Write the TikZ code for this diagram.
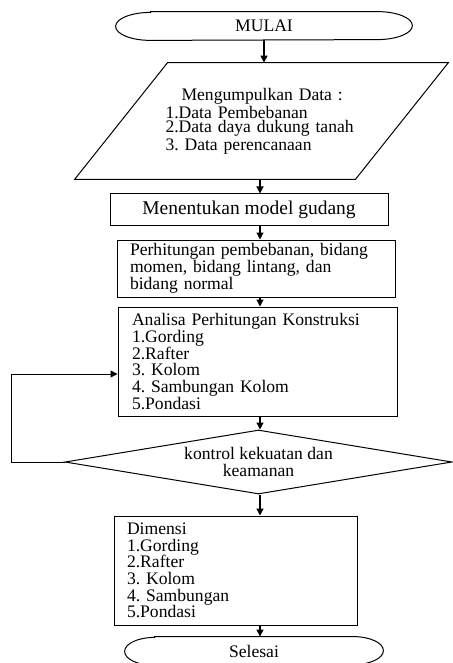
\documentclass[tikz,border=0pt]{standalone}
\usepackage{fontspec}
\setmainfont{Liberation Serif}
\usepackage{tikz}
\usetikzlibrary{arrows.meta,shapes.geometric,calc}
\frenchspacing
\newcommand*{\xAxis}{260}
\newcommand*{\xLoop}{11}
\newcommand*{\yLoop}{374}

\begin{document}
\begin{tikzpicture}[x=0.5pt,y=-0.5pt,
	box/.style={rectangle,draw=black,line width=0.5pt,align=left,inner ysep=0pt,font=\fontsize{8.8}{8.4}\selectfont},
	term/.style={rectangle,inner sep=0pt,minimum height=14pt,font=\fontsize{8.8}{8.4}\selectfont},
	arr/.style={-{Triangle[length=3.5pt,width=3.5pt]},line width=0.6pt}]
	\useasboundingbox (0,0) rectangle (452,663);
	\coordinate (ax) at (\xAxis,0);
	% mulai
	\node[term,minimum width=148pt] (mulai) at (264,26) {MULAI};
	\draw[line width=0.5pt] ([xshift=17.5pt]mulai.north west) -- ([xshift=-17.5pt]mulai.north east) arc[start angle=90,end angle=-90,x radius=17.5pt,y radius=7pt] -- ([xshift=17.5pt]mulai.south west) arc[start angle=270,end angle=90,x radius=17.5pt,y radius=7pt] -- cycle;
	% input data
	\node[rectangle,inner sep=0pt,minimum width=186.5pt,minimum height=58pt,text width=100pt,align=left,font=\fontsize{8.8}{7.3}\selectfont] (data) at (261.5,121) {\hspace*{10pt}Mengumpulkan Data :\\\hspace*{2pt}1.Data Pembebanan\\\hspace*{2pt}2.Data daya dukung tanah\\\hspace*{2pt}3. Data perencanaan};
	\draw[line width=0.5pt] ([xshift=46.5pt]data.north west) -- (data.north east) -- ([xshift=-46.5pt]data.south east) -- (data.south west) -- cycle;
	\node[box,align=center,minimum width=139pt,minimum height=16pt,font=\fontsize{9.75}{9}\selectfont] (model) at (249,210) {Menentukan model gudang};
	\node[box,inner xsep=6.5pt,text width=126pt,minimum height=28.5pt] (hitung) at (256,268.5) {Perhitungan pembebanan, bidang\\momen, bidang lintang, dan\\bidang normal};
	\node[box,inner xsep=7pt,text width=125.5pt,minimum height=54.5pt] (analisa) at (257.5,361.5) {Analisa Perhitungan Konstruksi\\1.Gording\\2.Rafter\\3. Kolom\\4. Sambungan Kolom\\5.Pondasi};
	\node[diamond,draw=black,line width=0.5pt,shape aspect=6,inner sep=0pt,minimum width=193.5pt,minimum height=32pt,align=center,font=\fontsize{8.8}{8.5}\selectfont] (kontrol) at (258.5,462) {kontrol kekuatan dan\\keamanan};
	\node[box,inner xsep=6.5pt,text width=108.5pt,minimum height=54.5pt,font=\fontsize{8.8}{8.3}\selectfont] (dimensi) at (235.5,570.5) {Dimensi\\1.Gording\\2.Rafter\\3. Kolom\\4. Sambungan\\5.Pondasi};
	% selesai
	\node[term,minimum width=129pt] (selesai) at (254,651) {Selesai};
	\draw[line width=0.5pt] ([xshift=15pt]selesai.north west) -- ([xshift=-15pt]selesai.north east) arc[start angle=90,end angle=-90,x radius=15pt,y radius=7pt] -- ([xshift=15pt]selesai.south west) arc[start angle=270,end angle=90,x radius=15pt,y radius=7pt] -- cycle;
	% arrows
	\draw[arr] (mulai.south) -- (mulai.south |- data.north);
	\draw[arr] (data.south -| ax) -- (model.north -| ax);
	\draw[arr] (model.south -| ax) -- (hitung.north -| ax);
	\draw[arr] (hitung.south -| ax) -- (analisa.north -| ax);
	\draw[arr] (analisa.south -| ax) -- (kontrol.north -| ax);
	\draw[arr] (kontrol.south -| ax) -- (dimensi.north -| ax);
	\draw[arr] (dimensi.south -| ax) -- (selesai.north -| ax);
	\coordinate (loop) at (\xLoop,\yLoop);
	\draw[arr,line width=0.5pt] (kontrol.west) -| (loop) -- (analisa.west |- loop);
\end{tikzpicture}
\end{document}
